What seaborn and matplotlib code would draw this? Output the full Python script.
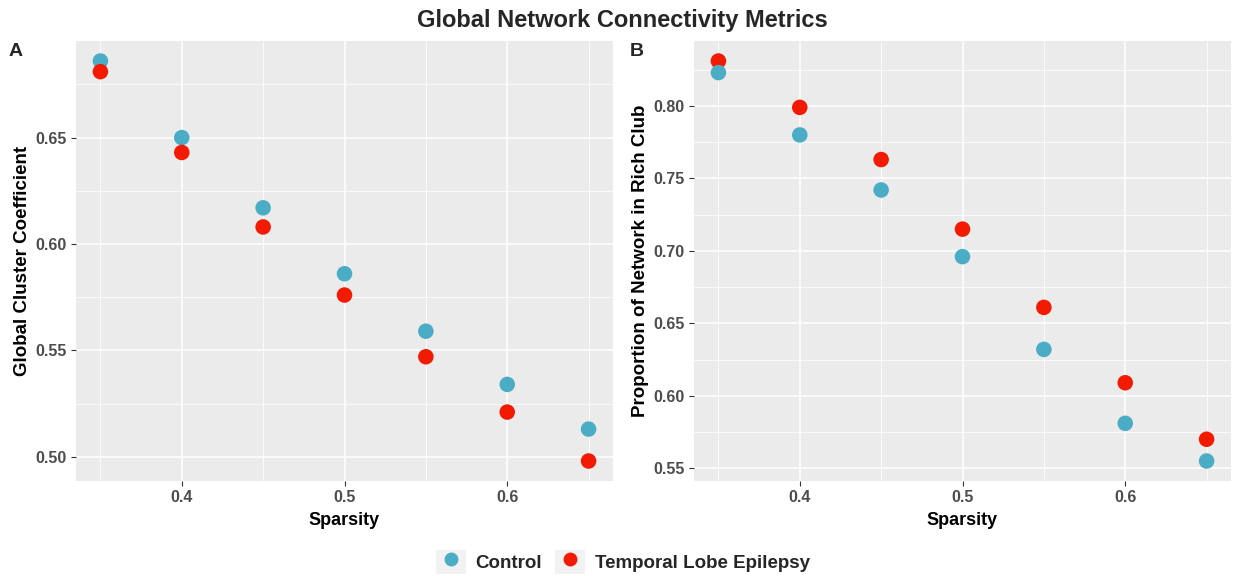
import numpy as np
import pandas as pd
import matplotlib
matplotlib.use("Agg")
import matplotlib.pyplot as plt
import seaborn as sns
from matplotlib.ticker import MultipleLocator, FormatStrFormatter
from matplotlib.lines import Line2D
from matplotlib.patches import Rectangle
from matplotlib.legend_handler import HandlerTuple

# ---- data ----
sparsity = [0.35, 0.40, 0.45, 0.50, 0.55, 0.60, 0.65]
groups = ["Control", "Temporal Lobe Epilepsy"]
cluster_control = [0.686, 0.650, 0.617, 0.586, 0.559, 0.534, 0.513]
cluster_tle = [0.681, 0.643, 0.608, 0.576, 0.547, 0.521, 0.498]
richclub_control = [0.823, 0.780, 0.742, 0.696, 0.632, 0.581, 0.555]
richclub_tle = [0.831, 0.799, 0.763, 0.715, 0.661, 0.609, 0.570]

colors = {"Control": "#4BACC6", "Temporal Lobe Epilepsy": "#F21A00"}

df_a = pd.DataFrame({
    "Sparsity": sparsity * 2,
    "value": cluster_control + cluster_tle,
    "group": [groups[0]] * 7 + [groups[1]] * 7,
})
df_b = pd.DataFrame({
    "Sparsity": sparsity * 2,
    "value": richclub_tle + richclub_control,
    "group": [groups[1]] * 7 + [groups[0]] * 7,
})

sns.set_theme(style="darkgrid")
plt.rcParams["font.family"] = ["Liberation Sans", "DejaVu Sans"]

W, H = 1233, 576
fig = plt.figure(figsize=(W / 100, H / 100), dpi=100)
fig.patch.set_facecolor("white")

ax_a = fig.add_axes([76 / W, 1 - 481 / H, 537 / W, 440 / H])
ax_b = fig.add_axes([694 / W, 1 - 481 / H, 537 / W, 440 / H])


def style(ax, df, ylabel, ymajor):
    sns.scatterplot(data=df, x="Sparsity", y="value", hue="group", palette=colors,
                    s=125, edgecolor="none", linewidth=0, ax=ax, legend=False, zorder=3)
    ax.set_facecolor("#EBEBEB")
    for sp in ax.spines.values():
        sp.set_visible(False)
    xmin, xmax = min(sparsity), max(sparsity)
    xr = xmax - xmin
    ax.set_xlim(xmin - 0.05 * xr, xmax + 0.05 * xr)
    ymin, ymax = df["value"].min(), df["value"].max()
    yr = ymax - ymin
    ax.set_ylim(ymin - 0.05 * yr, ymax + 0.05 * yr)
    ax.xaxis.set_major_locator(MultipleLocator(0.1))
    ax.xaxis.set_minor_locator(MultipleLocator(0.05))
    ax.yaxis.set_major_locator(MultipleLocator(ymajor))
    ax.yaxis.set_minor_locator(MultipleLocator(ymajor / 2))
    ax.xaxis.set_major_formatter(FormatStrFormatter("%.1f"))
    ax.yaxis.set_major_formatter(FormatStrFormatter("%.2f"))
    ax.grid(which="major", color="white", linewidth=1.1, zorder=0)
    ax.grid(which="minor", color="white", linewidth=0.55, zorder=0)
    ax.set_axisbelow(True)
    ax.tick_params(axis="both", which="major", length=3.5, width=0.8, color="#333333",
                   labelsize=11.5, labelcolor="#4D4D4D", pad=3, bottom=True, left=True)
    ax.tick_params(axis="both", which="minor", length=0)
    for lab in ax.get_xticklabels() + ax.get_yticklabels():
        lab.set_fontweight("bold")
    ax.set_xlabel("Sparsity", fontsize=13, fontweight="bold", color="black", labelpad=5)
    ax.set_ylabel(ylabel, fontsize=13.5, fontweight="bold", color="black", labelpad=3)


style(ax_a, df_a, "Global Cluster Coefficient", 0.05)
style(ax_b, df_b, "Proportion of Network in Rich Club", 0.05)

fig.text(622 / W, 1 - 20 / H, "Global Network Connectivity Metrics", ha="center", va="center",
         fontsize=17, fontweight="bold")
fig.text(16 / W, 1 - 52 / H, "A", ha="center", va="center", fontsize=14, fontweight="bold")
fig.text(637 / W, 1 - 52 / H, "B", ha="center", va="center", fontsize=14, fontweight="bold")

handles = []
for g in groups:
    bg = Rectangle((0, 0), 1, 1, facecolor="#F2F2F2", edgecolor="none")
    mk = Line2D([0], [0], marker="o", linestyle="none", markersize=10,
                markerfacecolor=colors[g], markeredgecolor="none")
    handles.append((bg, mk))
leg = fig.legend(handles, groups, loc="center", bbox_to_anchor=(623 / W, 1 - 562 / H),
                 ncol=2, frameon=False, handletextpad=0.5, columnspacing=0.7,
                 handlelength=1.6, handleheight=1.6,
                 handler_map={tuple: HandlerTuple(ndivide=1)},
                 prop={"size": 13.5, "weight": "bold"})

fig.savefig("out.png", dpi=100, facecolor="white")
